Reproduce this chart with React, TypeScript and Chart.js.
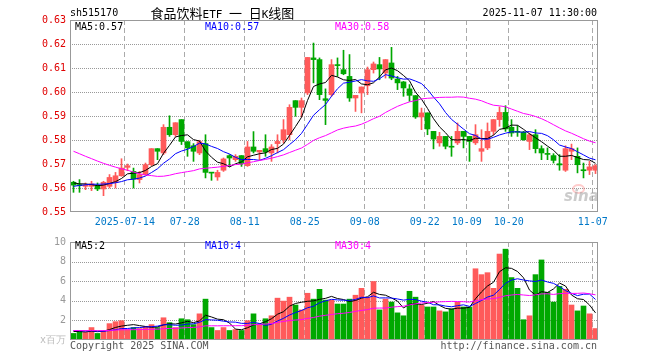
import React, { useEffect, useRef } from 'react';
import { Chart, registerables } from 'chart.js';

Chart.register(...registerables);

// ---------------- data ----------------
const dates: string[] = [
  '2025-07-01','2025-07-02','2025-07-03','2025-07-04','2025-07-07','2025-07-08','2025-07-09','2025-07-10','2025-07-11','2025-07-14',
  '2025-07-15','2025-07-16','2025-07-17','2025-07-18','2025-07-21','2025-07-22','2025-07-23','2025-07-24','2025-07-25','2025-07-28',
  '2025-07-29','2025-07-30','2025-07-31','2025-08-01','2025-08-04','2025-08-05','2025-08-06','2025-08-07','2025-08-08','2025-08-11',
  '2025-08-12','2025-08-13','2025-08-14','2025-08-15','2025-08-18','2025-08-19','2025-08-20','2025-08-21','2025-08-22','2025-08-25',
  '2025-08-26','2025-08-27','2025-08-28','2025-08-29','2025-09-01','2025-09-02','2025-09-03','2025-09-04','2025-09-05','2025-09-08',
  '2025-09-09','2025-09-10','2025-09-11','2025-09-12','2025-09-15','2025-09-16','2025-09-17','2025-09-18','2025-09-19','2025-09-22',
  '2025-09-23','2025-09-24','2025-09-25','2025-09-26','2025-09-29','2025-09-30','2025-10-09','2025-10-10','2025-10-13','2025-10-14',
  '2025-10-15','2025-10-16','2025-10-17','2025-10-20','2025-10-21','2025-10-22','2025-10-23','2025-10-24','2025-10-27','2025-10-28',
  '2025-10-29','2025-10-30','2025-10-31','2025-11-03','2025-11-04','2025-11-05','2025-11-06','2025-11-07',
];

const open: number[] = [
  0.5624,0.5613,0.5607,0.5607,0.5610,0.5596,0.5607,0.5624,0.5651,0.5686,
  0.5669,0.5635,0.5656,0.5697,0.5764,0.5746,0.5853,0.5822,0.5885,0.5793,
  0.5776,0.5746,0.5785,0.5665,0.5646,0.5674,0.5735,0.5718,0.5735,0.5693,
  0.5771,0.5750,0.5764,0.5746,0.5785,0.5801,0.5822,0.5964,0.5936,0.5996,
  0.6142,0.6135,0.5972,0.5989,0.6114,0.6093,0.6065,0.5975,0.5996,0.6026,
  0.6093,0.6114,0.6079,0.6121,0.6054,0.6042,0.6013,0.5985,0.5896,0.5913,
  0.5836,0.5788,0.5815,0.5774,0.5788,0.5836,0.5815,0.5788,0.5753,0.5767,
  0.5836,0.5885,0.5915,0.5853,0.5836,0.5833,0.5794,0.5822,0.5764,0.5743,
  0.5735,0.5701,0.5674,0.5753,0.5732,0.5674,0.5674,0.5674,
];
const high: number[] = [
  0.5628,0.5635,0.5621,0.5628,0.5621,0.5628,0.5656,0.5665,0.5722,0.5700,
  0.5683,0.5669,0.5704,0.5764,0.5764,0.5864,0.5901,0.5872,0.5885,0.5793,
  0.5785,0.5799,0.5822,0.5665,0.5674,0.5725,0.5739,0.5739,0.5735,0.5794,
  0.5835,0.5757,0.5822,0.5781,0.5822,0.5885,0.5947,0.5964,0.5975,0.6144,
  0.6204,0.6142,0.6013,0.6135,0.6142,0.6174,0.6156,0.5986,0.6021,0.6104,
  0.6125,0.6144,0.6135,0.6186,0.6065,0.6044,0.6031,0.5985,0.5933,0.5913,
  0.5836,0.5832,0.5815,0.5815,0.5871,0.5836,0.5815,0.5864,0.5843,0.5871,
  0.5885,0.5938,0.5943,0.5885,0.5860,0.5836,0.5829,0.5843,0.5776,0.5767,
  0.5743,0.5739,0.5776,0.5783,0.5767,0.5704,0.5711,0.5697,
];
const low: number[] = [
  0.5582,0.5582,0.5593,0.5589,0.5589,0.5568,0.5600,0.5600,0.5649,0.5672,
  0.5600,0.5621,0.5653,0.5693,0.5718,0.5739,0.5815,0.5815,0.5781,0.5732,
  0.5711,0.5739,0.5642,0.5632,0.5632,0.5669,0.5690,0.5711,0.5690,0.5690,
  0.5746,0.5718,0.5732,0.5711,0.5746,0.5788,0.5801,0.5899,0.5896,0.5989,
  0.6038,0.5968,0.5864,0.5982,0.6065,0.6072,0.5961,0.5919,0.5913,0.5989,
  0.6079,0.6051,0.6058,0.6051,0.6010,0.5982,0.5961,0.5890,0.5843,0.5822,
  0.5763,0.5774,0.5763,0.5732,0.5781,0.5767,0.5711,0.5781,0.5711,0.5760,
  0.5822,0.5857,0.5836,0.5815,0.5815,0.5799,0.5760,0.5746,0.5718,0.5718,
  0.5704,0.5674,0.5669,0.5718,0.5663,0.5642,0.5656,0.5660,
];
const close: number[] = [
  0.5612,0.5610,0.5613,0.5617,0.5596,0.5624,0.5644,0.5651,0.5683,0.5693,
  0.5637,0.5656,0.5697,0.5764,0.5753,0.5853,0.5822,0.5872,0.5794,0.5767,
  0.5753,0.5793,0.5665,0.5662,0.5665,0.5721,0.5725,0.5732,0.5701,0.5771,
  0.5753,0.5757,0.5750,0.5771,0.5794,0.5843,0.5936,0.5936,0.5964,0.6144,
  0.6135,0.5989,0.5965,0.6114,0.6110,0.6076,0.5975,0.5986,0.6021,0.6093,
  0.6117,0.6096,0.6135,0.6058,0.6038,0.6017,0.5986,0.5896,0.5913,0.5846,
  0.5804,0.5815,0.5774,0.5770,0.5836,0.5815,0.5794,0.5822,0.5764,0.5836,
  0.5885,0.5915,0.5846,0.5829,0.5832,0.5801,0.5822,0.5764,0.5746,0.5740,
  0.5715,0.5696,0.5764,0.5764,0.5697,0.5672,0.5688,0.5693,
];
// volume, millions
const volume: number[] = [
  0.67,0.87,0.77,1.27,0.67,0.93,1.67,1.87,1.97,1.07,
  1.27,1.17,1.40,1.57,1.27,2.27,1.77,1.27,2.17,2.07,
  1.57,2.67,4.17,1.27,0.97,1.27,0.97,1.07,0.97,1.97,
  2.67,1.57,2.17,2.47,4.27,3.97,4.37,3.57,3.07,4.77,
  4.17,5.17,4.07,4.07,3.67,3.67,4.17,4.57,5.27,4.37,
  5.97,3.07,4.17,3.87,2.77,2.47,4.97,4.37,3.57,3.37,
  3.37,2.97,2.87,3.17,3.87,3.37,3.37,7.27,6.67,6.87,
  5.27,8.77,9.27,6.37,5.27,2.07,2.47,6.67,8.17,4.87,
  3.87,5.47,5.17,3.57,2.97,3.47,2.67,1.17,
];
// 29 sessions before the window (needed for the moving averages)
const priorClose: number[] = [
  0.5920,0.5935,0.5910,0.5900,0.5905,0.5890,0.5880,0.5895,0.5870,0.5860,
  0.5875,0.5850,0.5840,0.5850,0.5831,0.5700,0.5680,0.5660,0.5642,0.5630,
  0.5575,0.5585,0.5590,0.5600,0.5615,0.5628,0.5615,0.5632,0.5618,
];
const priorVolume: number[] = [
  1.0,0.9,1.1,0.95,0.85,1.05,1.0,0.9,0.95,1.1,
  0.95,0.9,1.0,1.05,0.9,0.95,1.0,0.85,1.0,0.95,
  1.1,1.0,1.15,0.95,1.15,0.9,1.0,0.85,0.93,
];

const tickDates: string[] = ['2025-07-14','2025-07-28','2025-08-11','2025-08-25','2025-09-08','2025-09-22','2025-10-09','2025-10-20','2025-11-07'];
const priceTicks: number[] = [0.55,0.56,0.57,0.58,0.59,0.60,0.61,0.62,0.63];
const volumeTicks: number[] = [0,2,4,6,8,10];

// ---------------- helpers ----------------
const UP = '#ff5a5a';
const DOWN = '#00a800';
const MONO = "'DejaVu Sans Mono', 'Liberation Mono', monospace";
const CJK = "'Noto Sans CJK SC', sans-serif";

function movingAverage(values: number[], prior: number[], n: number): number[] {
  const all = prior.concat(values);
  return values.map((_, i) => {
    const end = prior.length + i;
    let s = 0;
    for (let k = end - n + 1; k <= end; k++) s += all[k];
    return s / n;
  });
}

const cMA5 = movingAverage(close, priorClose, 5);
const cMA10 = movingAverage(close, priorClose, 10);
const cMA30 = movingAverage(close, priorClose, 30);
const vMA5 = movingAverage(volume, priorVolume, 5);
const vMA10 = movingAverage(volume, priorVolume, 10);
const vMA30 = movingAverage(volume, priorVolume, 30);

const colors = close.map((c, i) => (c >= open[i] ? UP : DOWN));
const tickIndex = tickDates.map((d) => dates.indexOf(d));
const pts = (arr: number[]) => arr.map((y, x) => ({ x, y }));

const X_MIN = -0.5 - 1 / 12;
const X_MAX = dates.length - 0.5 - 1 / 12;

function framePlugin(hTicks: number[]) {
  return {
    id: 'frame',
    beforeDatasetsDraw(chart: any) {
      const { ctx, chartArea: a } = chart;
      const xs = chart.scales.x;
      const ys = chart.scales.y;
      ctx.save();
      ctx.lineWidth = 1;
      ctx.strokeStyle = '#999';
      ctx.setLineDash([1, 1]);
      hTicks.forEach((v) => {
        const y = Math.round(ys.getPixelForValue(v)) + 0.5;
        ctx.beginPath();
        ctx.moveTo(a.left, y);
        ctx.lineTo(a.right, y);
        ctx.stroke();
      });
      ctx.strokeStyle = '#aaa';
      ctx.setLineDash([5, 3]);
      tickIndex.forEach((i) => {
        const x = Math.floor(xs.getPixelForValue(i - 0.45)) + 0.5;
        ctx.beginPath();
        ctx.moveTo(x, a.top);
        ctx.lineTo(x, a.bottom);
        ctx.stroke();
      });
      ctx.restore();
    },
    afterDatasetsDraw(chart: any) {
      const { ctx, chartArea: a } = chart;
      ctx.save();
      ctx.setLineDash([]);
      ctx.strokeStyle = '#999';
      ctx.lineWidth = 1;
      ctx.strokeRect(a.left + 0.5, a.top + 0.5, a.right - a.left - 1, a.bottom - a.top - 1);
      ctx.restore();
    },
  };
}

const lineDs = (data: number[], color: string) => ({
  type: 'line' as const,
  data: pts(data),
  borderColor: color,
  borderWidth: 1,
  pointRadius: 0,
  tension: 0,
  order: 1,
});

const Txt = (p: { l?: number; r?: number; t: number; c: string; children: any; f?: string; s?: number }) => (
  <div
    style={{
      position: 'absolute',
      left: p.l,
      right: p.r,
      top: p.t,
      color: p.c,
      fontFamily: p.f || MONO,
      fontSize: p.s || 10,
      lineHeight: 1,
      whiteSpace: 'nowrap',
      pointerEvents: 'none',
    }}
  >
    {p.children}
  </div>
);

export default function App() {
  const mainRef = useRef<HTMLCanvasElement>(null);
  const volRef = useRef<HTMLCanvasElement>(null);

  useEffect(() => {
    const main = new Chart(mainRef.current as HTMLCanvasElement, {
      type: 'bar',
      data: {
        datasets: [
          lineDs(cMA30, '#ff00ff'),
          lineDs(cMA10, '#0000ff'),
          lineDs(cMA5, '#000000'),
          {
            type: 'bar',
            data: open.map((o, x) => ({ x, y: [o, close[x]] })),
            backgroundColor: colors,
            grouped: false,
            categoryPercentage: 1,
            barPercentage: 1,
            maxBarThickness: 5,
            minBarLength: 1,
            order: 2,
          } as any,
          {
            type: 'bar',
            data: low.map((l, x) => ({ x, y: [l, high[x]] })),
            backgroundColor: colors,
            grouped: false,
            categoryPercentage: 1,
            barPercentage: 1,
            maxBarThickness: 1,
            order: 3,
          } as any,
        ],
      },
      options: {
        responsive: false,
        animation: false,
        devicePixelRatio: 1,
        events: [],
        layout: { padding: { left: 0, right: 62, top: 20, bottom: 0 } },
        plugins: { legend: { display: false }, tooltip: { enabled: false } },
        scales: {
          x: {
            type: 'linear',
            min: X_MIN,
            max: X_MAX,
            offset: false,
            grid: { display: false, drawTicks: false },
            border: { display: false },
            afterBuildTicks: (s: any) => {
              s.ticks = tickIndex.map((i) => ({ value: i - 0.45 }));
            },
            afterFit: (s: any) => {
              s.height = 20;
            },
            ticks: {
              autoSkip: false,
              maxRotation: 0,
              minRotation: 0,
              padding: 4,
              color: '#0078c8',
              font: { family: MONO, size: 10 },
              callback: (_v: any, idx: number) => (idx === 0 ? tickDates[idx] : tickDates[idx].slice(5)),
            },
          },
          y: {
            type: 'linear',
            min: priceTicks[0],
            max: priceTicks[priceTicks.length - 1],
            grid: { display: false, drawTicks: false },
            border: { display: false },
            afterBuildTicks: (s: any) => {
              s.ticks = priceTicks.map((value) => ({ value }));
            },
            afterFit: (s: any) => {
              s.width = 70;
            },
            ticks: {
              padding: 4,
              color: '#e00000',
              font: { family: MONO, size: 10 },
              callback: (v: any) => Number(v).toFixed(2),
            },
          },
        },
      } as any,
      plugins: [framePlugin(priceTicks.slice(1, -1))],
    });

    const vol = new Chart(volRef.current as HTMLCanvasElement, {
      type: 'bar',
      data: {
        datasets: [
          lineDs(vMA30, '#ff00ff'),
          lineDs(vMA10, '#0000ff'),
          lineDs(vMA5, '#000000'),
          {
            type: 'bar',
            data: pts(volume),
            backgroundColor: colors,
            grouped: false,
            categoryPercentage: 1,
            barPercentage: 1,
            maxBarThickness: 5,
            order: 2,
          } as any,
        ],
      },
      options: {
        responsive: false,
        animation: false,
        devicePixelRatio: 1,
        events: [],
        layout: { padding: { left: 0, right: 62, top: 8, bottom: 20 } },
        plugins: { legend: { display: false }, tooltip: { enabled: false } },
        scales: {
          x: { type: 'linear', min: X_MIN, max: X_MAX, offset: false, display: false },
          y: {
            type: 'linear',
            min: volumeTicks[0],
            max: volumeTicks[volumeTicks.length - 1],
            grid: { display: false, drawTicks: false },
            border: { display: false },
            afterBuildTicks: (s: any) => {
              s.ticks = volumeTicks.map((value) => ({ value }));
            },
            afterFit: (s: any) => {
              s.width = 70;
            },
            ticks: {
              padding: 4,
              color: (c: any) => (c.tick && c.tick.value === 0 ? '#bbbbbb' : '#999999'),
              font: { family: MONO, size: 10 },
              callback: (v: any) => (Number(v) === 0 ? 'x百万' : String(v)),
            },
          },
        },
      } as any,
      plugins: [framePlugin(volumeTicks.slice(1, -1))],
    });

    return () => {
      main.destroy();
      vol.destroy();
    };
  }, []);

  const last = close.length - 1;
  const fmtP = (v: number) => v.toFixed(2);
  const fmtV = (v: number) => String(Math.floor(v));

  return (
    <div style={{ position: 'fixed', left: 0, top: 0, width: 660, height: 360, background: '#fff', overflow: 'hidden' }}>
      <canvas ref={mainRef} width={660} height={232} style={{ position: 'absolute', left: 0, top: 0, width: 660, height: 232 }} />
      <canvas ref={volRef} width={660} height={128} style={{ position: 'absolute', left: 0, top: 232, width: 660, height: 128 }} />

      <Txt l={70} t={8} c="#000">sh515170</Txt>
      <div style={{ position: 'absolute', left: 150.5, top: 5, lineHeight: 1, whiteSpace: 'nowrap', color: '#000' }}>
        <span style={{ fontFamily: CJK, fontSize: 13 }}>食品饮料</span>
        <span style={{ fontFamily: MONO, fontSize: 11 }}>ETF </span>
        <span style={{ fontFamily: CJK, fontSize: 13 }}>一</span>
        <span style={{ fontFamily: MONO, fontSize: 11 }}> </span>
        <span style={{ fontFamily: CJK, fontSize: 13 }}>日</span>
        <span style={{ fontFamily: MONO, fontSize: 11 }}>K</span>
        <span style={{ fontFamily: CJK, fontSize: 13 }}>线图</span>
      </div>
      <Txt r={63} t={8} c="#000">2025-11-07 11:30:00</Txt>

      <Txt l={75} t={22} c="#000">{'MA5:' + fmtP(cMA5[last])}</Txt>
      <Txt l={205} t={22} c="#0000ff">{'MA10:' + fmtP(cMA10[last])}</Txt>
      <Txt l={335} t={22} c="#ff00ff">{'MA30:' + fmtP(cMA30[last])}</Txt>

      <Txt l={75} t={241} c="#000">{'MA5:' + fmtV(vMA5[last])}</Txt>
      <Txt l={205} t={241} c="#0000ff">{'MA10:' + fmtV(vMA10[last])}</Txt>
      <Txt l={335} t={241} c="#ff00ff">{'MA30:' + fmtV(vMA30[last])}</Txt>

      <div style={{ position: 'absolute', left: 572, top: 184, width: 9, height: 6, border: '2px solid rgba(255,110,110,0.35)', borderRadius: '50%' }} />
      <div style={{ position: 'absolute', left: 564, top: 189, fontFamily: "'DejaVu Sans', sans-serif", fontWeight: 'bold', fontStyle: 'italic', fontSize: 15, lineHeight: 1, color: 'rgba(160,160,160,0.55)', pointerEvents: 'none' }}>sina</div>

      <Txt l={70} t={341} c="#555">Copyright 2025 SINA.COM</Txt>
      <Txt r={63} t={341} c="#555">http://finance.sina.com.cn</Txt>
    </div>
  );
}
